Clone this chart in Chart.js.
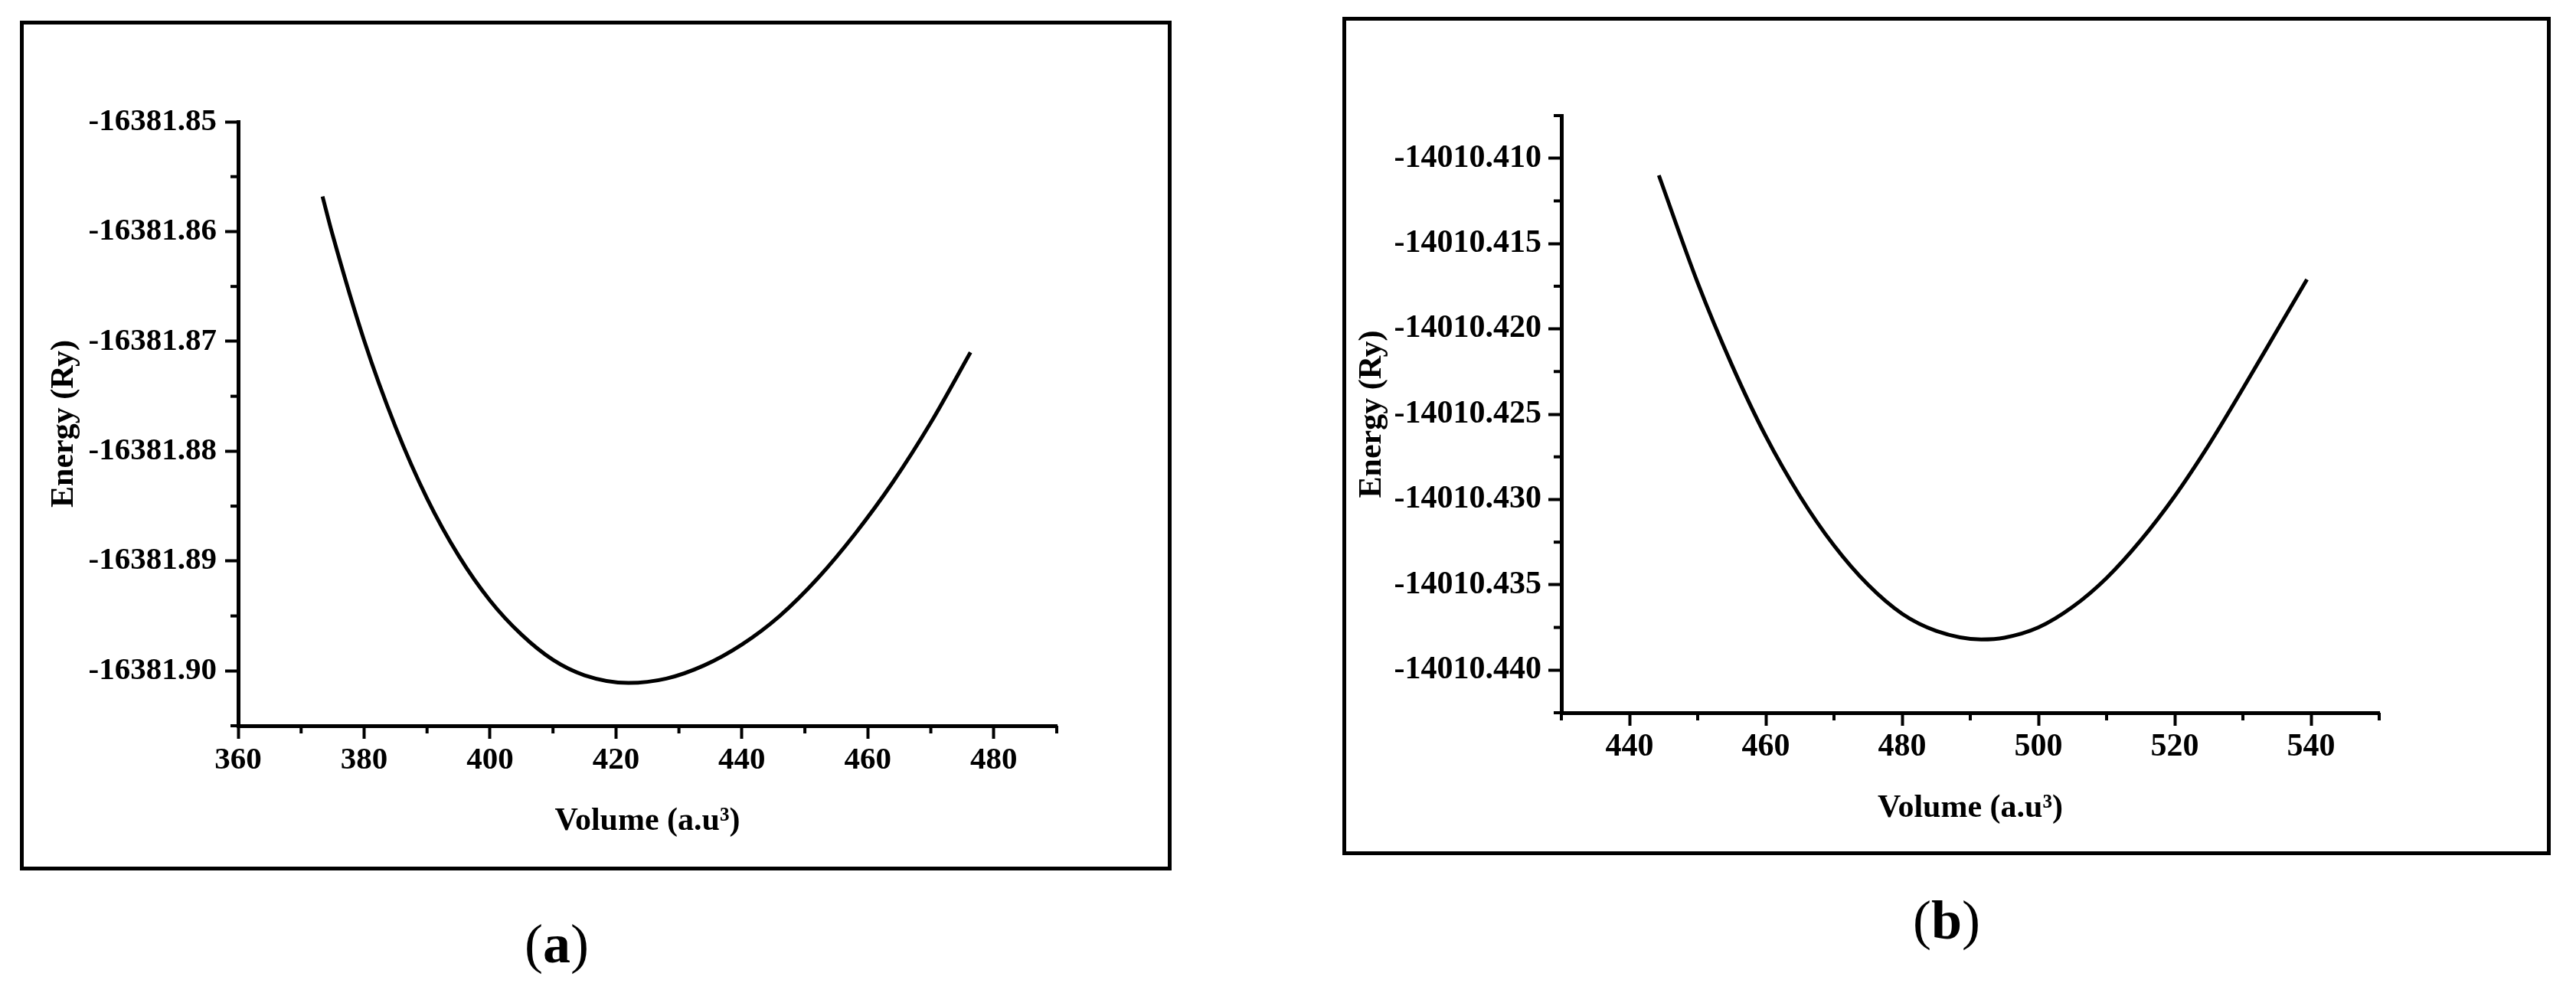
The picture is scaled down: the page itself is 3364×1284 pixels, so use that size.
<!DOCTYPE html>
<html>
<head>
<meta charset="utf-8">
<script src="https://cdn.jsdelivr.net/npm/chart.js@4.4.1/dist/chart.umd.min.js"></script>
<style>
  body { margin: 0; background: #fff; width: 3364px; height: 1284px; position: relative; overflow: hidden; }
  .frame { position: absolute; border: 5px solid #000; box-sizing: border-box; }
  canvas { position: absolute; top: 0; }
  .cap { position: absolute; font-family: "Liberation Serif", serif; font-size: 72px; line-height: 1; transform: translateX(-50%); color: #000; }
</style>
</head>
<body>
<div class="frame" style="left:26px; top:27px; width:1504px; height:1110px;"></div>
<div class="frame" style="left:1753px; top:22px; width:1578px; height:1095px;"></div>
<canvas id="chartA" width="1700" height="1284" style="left:0px;"></canvas>
<canvas id="chartB" width="1664" height="1284" style="left:1700px;"></canvas>
<div class="cap" style="left:727px; top:1197px;">(<b>a</b>)</div>
<div class="cap" style="left:2542px; top:1166px;">(<b>b</b>)</div>

<script>
// panel (a)
const volA = [373.4, 375, 380, 385, 390, 395, 400, 405, 410, 415, 422,
              428, 434, 440, 446, 452, 458, 464, 470, 476.3];
const energyA = [-16381.8568, -16381.8603, -16381.8699, -16381.8778, -16381.8843, -16381.8895,
                 -16381.8936, -16381.8967, -16381.8990, -16381.9004, -16381.9011,
                 -16381.9007, -16381.8995, -16381.8976, -16381.8950, -16381.8916,
                 -16381.8875, -16381.8828, -16381.8774, -16381.8710];
const xTicksA = [360, 380, 400, 420, 440, 460, 480];
const xMinorA = [370, 390, 410, 430, 450, 470, 490];
const yTicksA = [-16381.85, -16381.86, -16381.87, -16381.88, -16381.89, -16381.90];
const yLabelsA = ['-16381.85', '-16381.86', '-16381.87', '-16381.88', '-16381.89', '-16381.90'];
const yMinorA = [-16381.855, -16381.865, -16381.875, -16381.885, -16381.895, -16381.905];

// panel (b)
const volB = [444.3, 450, 455, 460, 465, 470, 475, 480, 485, 491.6,
              495, 500, 505, 510, 515, 520, 525, 530, 535, 539.4];
const energyB = [-14010.4110, -14010.4173, -14010.4221, -14010.4263, -14010.4298, -14010.4327,
                 -14010.4350, -14010.4367, -14010.4377, -14010.4382,
                 -14010.4381, -14010.4375, -14010.4363, -14010.4346, -14010.4324, -14010.4298,
                 -14010.4268, -14010.4235, -14010.4201, -14010.4171];
const xTicksB = [440, 460, 480, 500, 520, 540];
const xMinorB = [430, 450, 470, 490, 510, 530, 550];
const yTicksB = [-14010.410, -14010.415, -14010.420, -14010.425, -14010.430, -14010.435, -14010.440];
const yLabelsB = ['-14010.410', '-14010.415', '-14010.420', '-14010.425', '-14010.430', '-14010.435', '-14010.440'];
const yMinorB = [-14010.4075, -14010.4125, -14010.4175, -14010.4225, -14010.4275, -14010.4325, -14010.4375, -14010.4425];

// kleine Zwischenstriche an den Achsen
const minorTicks = {
    id: 'minorTicks',
    afterDraw(chart, args, opts) {
        const ctx = chart.ctx;
        const xs = chart.scales.x;
        const ys = chart.scales.y;
        ctx.save();
        ctx.strokeStyle = '#000';
        ctx.lineWidth = 4;
        opts.xv.forEach(v => {
            const px = xs.getPixelForValue(v);
            ctx.beginPath();
            ctx.moveTo(px, xs.top);
            ctx.lineTo(px, xs.top + 10);
            ctx.stroke();
        });
        opts.yv.forEach(v => {
            const py = ys.getPixelForValue(v);
            ctx.beginPath();
            ctx.moveTo(ys.right, py);
            ctx.lineTo(ys.right - 10, py);
            ctx.stroke();
        });
        ctx.restore();
    }
};

function makeChart(id, cfg) {
    const tickFont = { family: 'Liberation Serif', weight: 'bold', size: cfg.tickSize };
    const titleFont = { family: 'Liberation Serif', weight: 'bold', size: 42, lineHeight: 1.2 };
    return new Chart(document.getElementById(id).getContext('2d'), {
        type: 'line',
        data: {
            datasets: [{
                data: cfg.vol.map((v, i) => ({ x: v, y: cfg.energy[i] })),
                borderColor: '#000',
                borderWidth: 5,
                pointRadius: 0,
                fill: false,
                cubicInterpolationMode: 'monotone'
            }]
        },
        options: {
            responsive: false,
            animation: false,
            layout: { padding: cfg.padding },
            plugins: {
                legend: { display: false },
                tooltip: { enabled: false },
                minorTicks: { xv: cfg.xMinor, yv: cfg.yMinor }
            },
            scales: {
                x: {
                    type: 'linear',
                    min: cfg.xMin,
                    max: cfg.xMax,
                    afterBuildTicks: s => { s.ticks = cfg.xTicks.map(v => ({ value: v })); },
                    afterFit: s => { s.height = cfg.xHeight; },
                    grid: { drawOnChartArea: false, tickLength: 17, tickWidth: 4, tickColor: '#000' },
                    border: { display: true, color: '#000', width: 5 },
                    ticks: { color: '#000', font: tickFont, padding: cfg.xPad, maxRotation: 0, autoSkip: false,
                             callback: v => String(v) },
                    title: { display: true, text: 'Volume (a.u³)', color: '#000', font: titleFont, padding: 0 }
                },
                y: {
                    type: 'linear',
                    min: cfg.yMin,
                    max: cfg.yMax,
                    afterBuildTicks: s => { s.ticks = cfg.yTicks.map(v => ({ value: v })); },
                    afterFit: s => { s.width = cfg.yWidth; },
                    grid: { drawOnChartArea: false, tickLength: 17, tickWidth: 4, tickColor: '#000' },
                    border: { display: true, color: '#000', width: 5 },
                    ticks: { color: '#000', font: tickFont, padding: cfg.yPad, autoSkip: false,
                             callback: (v, i) => cfg.yLabels[i] },
                    title: { display: true, text: 'Energy (Ry)', color: '#000', font: titleFont, padding: 0 }
                }
            }
        },
        plugins: [minorTicks]
    });
}

makeChart('chartA', {
    vol: volA, energy: energyA,
    xTicks: xTicksA, xMinor: xMinorA, yTicks: yTicksA, yLabels: yLabelsA, yMinor: yMinorA,
    xMin: 360, xMax: 490, yMin: -16381.905, yMax: -16381.85,
    padding: { left: 59, top: 159, right: 320, bottom: 186 },
    yWidth: 252, xHeight: 150, tickSize: 41, xPad: 4, yPad: 11
});

makeChart('chartB', {
    vol: volB, energy: energyB,
    xTicks: xTicksB, xMinor: xMinorB, yTicks: yTicksB, yLabels: yLabelsB, yMinor: yMinorB,
    xMin: 430, xMax: 550, yMin: -14010.4425, yMax: -14010.4075,
    padding: { left: 67, top: 151, right: 257, bottom: 203 },
    yWidth: 272, xHeight: 150, tickSize: 42, xPad: 3, yPad: 9
});
</script>
</body>
</html>
